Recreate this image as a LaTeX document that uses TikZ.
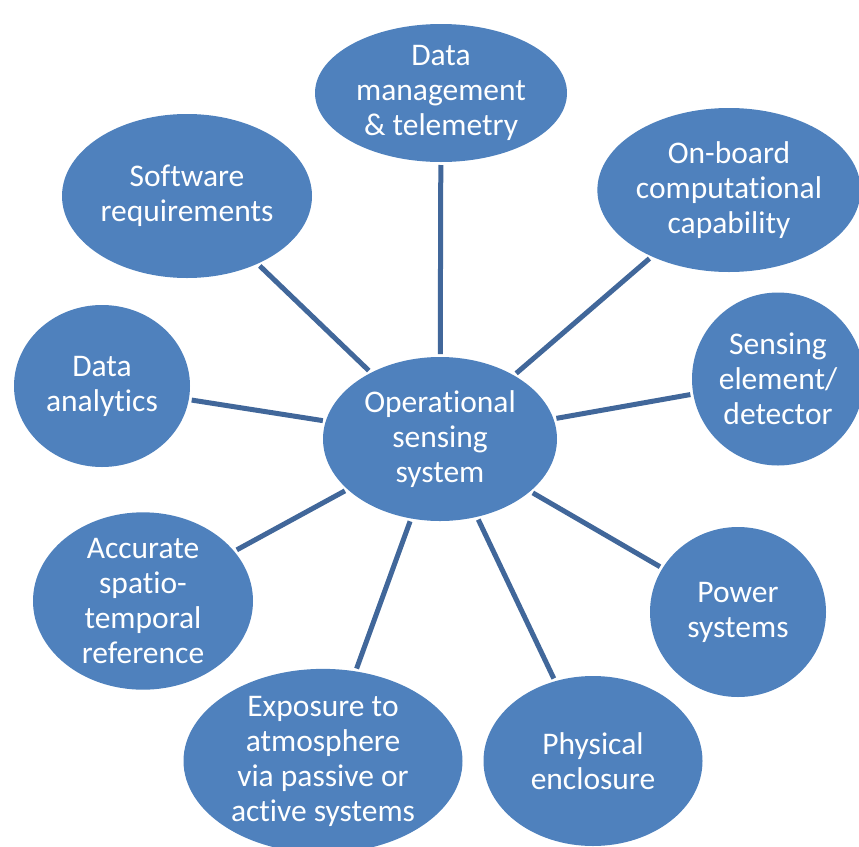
\documentclass[tikz,border=0pt]{standalone}
\usepackage{fontspec}
\setmainfont{Carlito}[RawFeature={-liga;-clig;-dlig}]
\usetikzlibrary{shapes.geometric}
\definecolor{bubble}{HTML}{4F81BD}
\definecolor{spoke}{HTML}{41679A}
\newcommand\tih{t\kern0pt i}
\begin{document}
\begin{tikzpicture}[x=1pt,y=-1pt,
  bub/.style={ellipse, fill=bubble, draw=none, inner sep=0pt, outer sep=3pt,
    text=white, align=center, font=\fontsize{31.5}{35}\selectfont},
  spk/.style={draw=spoke, line width=5pt}]
\useasboundingbox (0,0) rectangle (859,846);
\clip (0,0) rectangle (859,846);
\node[bub, minimum width=234, minimum height=164] (C) at (440,439) {Opera\tih onal\\sensing\\system};
\node[bub, minimum width=252, minimum height=138] (DM) at (441,93) {Data\\management\\\& telemetry};
\node[bub, minimum width=262, minimum height=164] (OB) at (729,190) {On-board\\computa\tih onal\\capability};
\node[bub, minimum width=250, minimum height=164] (SW) at (187,196) {Software\\requirements};
\node[bub, minimum width=176, minimum height=162] (DA) at (102,386) {Data\\analy\tih cs};
\node[bub, minimum width=172, minimum height=173] (SE) at (778,379) {Sensing\\element/\\detector};
\node[bub, minimum width=220, minimum height=172] (AC) at (143,601) {Accurate\\spa\tih o-\\temporal\\reference};
\node[bub, minimum width=176, minimum height=170] (PW) at (738,612) {Power\\systems};
\node[bub, minimum width=279, minimum height=174] (EX) at (323,761) {Exposure to\\atmosphere\\via passive or\\ac\tih ve systems};
\node[bub, minimum width=219, minimum height=170] (PH) at (593,761) {Physical\\enclosure};
\foreach \n in {DM,OB,SW,DA,SE,AC,PW,EX,PH}
  \draw[spk] (C) -- (\n);
\end{tikzpicture}
\end{document}
